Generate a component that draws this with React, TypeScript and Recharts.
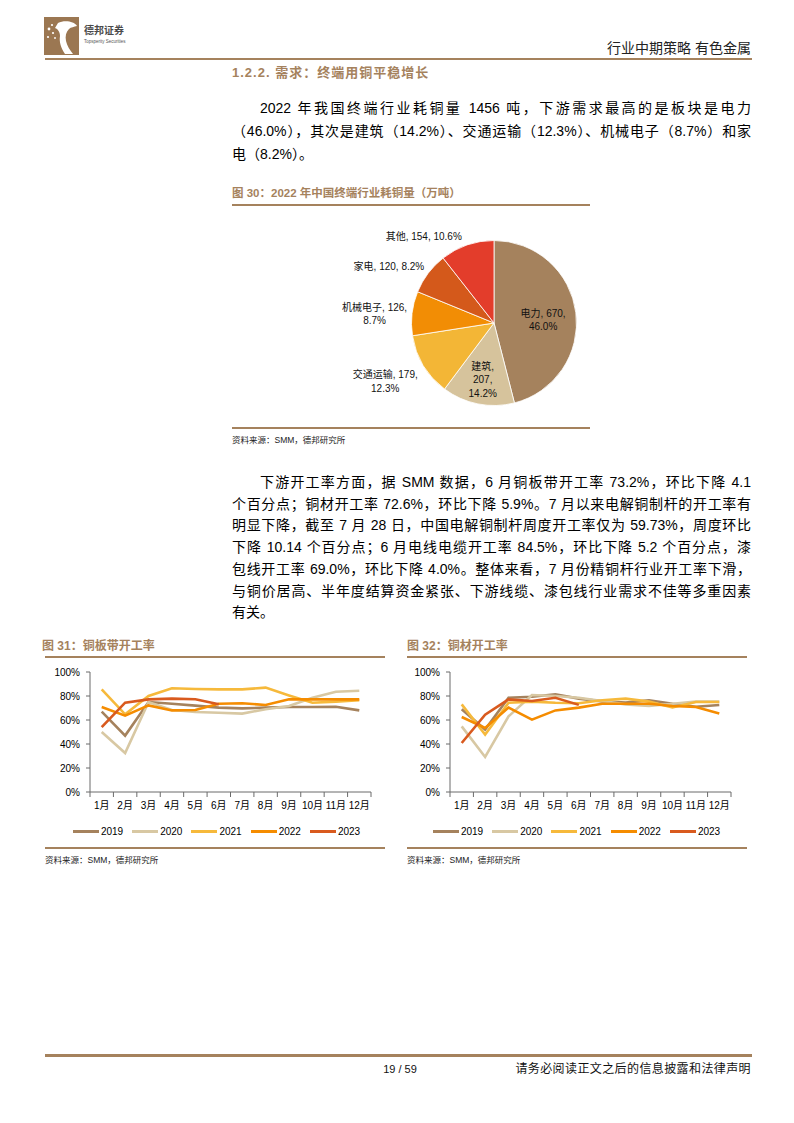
import React from 'react';
import { PieChart, Pie, Cell, LineChart, Line, XAxis, YAxis, Legend } from 'recharts';

// ---------- data ----------
const pieNames = ['电力', '建筑', '交通运输', '机械电子', '家电', '其他'];
const pieValues = [670, 207, 179, 126, 120, 154];
const pieColors = ['#A5825D', '#D6C39C', '#F3B636', '#F28D05', '#D4591B', '#E33D2B'];

const months = ['1月', '2月', '3月', '4月', '5月', '6月', '7月', '8月', '9月', '10月', '11月', '12月'];
const years = ['2019', '2020', '2021', '2022', '2023'];
const yearColors = ['#A5825D', '#D8C8A3', '#F6B93B', '#F58C00', '#D95A1E'];
const yTicks = [0, 20, 40, 60, 80, 100];

// 图31 铜板带开工率 (%)
const plate2019 = [67, 47, 75, 73.5, 72, 70.3, 69.7, 70.3, 70.8, 70.8, 71, 68];
const plate2020 = [50, 32.5, 75, 68.3, 66.7, 66, 65.3, 69, 71.7, 78.6, 83.6, 84.4];
const plate2021 = [85.5, 64.7, 80, 86.4, 85.8, 85.5, 85.5, 87, 80.5, 74.4, 75.3, 76.4];
const plate2022 = [70.8, 63.6, 72.2, 68, 68.3, 73.6, 74, 72.5, 77.2, 77.2, 77.2, 77.2];
const plate2023 = [54, 74.4, 77.2, 77.8, 77.3, 73.2];

// 图32 铜材开工率 (%)
const rod2019 = [69, 52, 78.6, 79.4, 81.4, 77.8, 75.5, 74.5, 76.5, 73.5, 71, 72.5];
const rod2020 = [54.7, 29.2, 63, 80.8, 80, 78.6, 75.8, 73, 71.7, 73.6, 75.3, 75.3];
const rod2021 = [73, 47.8, 74.4, 75.3, 74.4, 74, 76.4, 77.8, 75.3, 70.5, 75, 75];
const rod2022 = [62.5, 53.3, 70.3, 60.3, 68, 70.3, 73.6, 73.6, 73.6, 71.7, 70.8, 65.5];
const rod2023 = [40.8, 64.4, 77.2, 75.8, 78.5, 72.6];

// ---------- build tables ----------
const pieTotal = pieValues.reduce((a, b) => a + b, 0);
const pieData = pieNames.map((name, i) => ({
  name,
  value: pieValues[i],
  pct: ((pieValues[i] / pieTotal) * 100).toFixed(1) + '%',
}));

function buildRows(series: number[][]) {
  return months.map((m, i) => {
    const row: any = { m };
    years.forEach((y, k) => {
      if (series[k][i] !== undefined) row[y] = series[k][i];
    });
    return row;
  });
}
const plateRows = buildRows([plate2019, plate2020, plate2021, plate2022, plate2023]);
const rodRows = buildRows([rod2019, rod2020, rod2021, rod2022, rod2023]);

// ---------- styles ----------
const FONT = '"Liberation Sans", Arial, "Noto Sans CJK SC", sans-serif';
const BROWN = '#A5825D';
const AXIS = '#6b6b6b';
const RAD = Math.PI / 180;

const CHART_W = 341;
const Y_AXIS_W = 50;
const MARGIN_R = 10;
const PLOT_W = CHART_W - Y_AXIS_W - MARGIN_R;
const HALF_BAND = PLOT_W / months.length / 2;

const pieLabelLayout = [
  { inside: true, r: 0.6, dx: 0, dy: 3, split: 2 },
  { inside: true, r: 0.7, dx: 0, dy: 0, split: 3 },
  { inside: false, r: 10, dx: 3, dy: 11, split: 2 },
  { inside: false, r: 10, dx: 5, dy: 2, split: 2 },
  { inside: false, r: 10, dx: 4, dy: -1, split: 1 },
  { inside: false, r: 10, dx: -2, dy: 1, split: 1 },
];

function textW(s: string) {
  let w = 0;
  for (const ch of s) {
    if (/[\u4e00-\u9fff]/.test(ch)) w += 10;
    else if (/[0-9]/.test(ch)) w += 5.56;
    else if (ch === '%') w += 8.89;
    else w += 2.78;
  }
  return w;
}

const renderPieLabel = (props: any) => {
  const { cx, cy, midAngle, outerRadius, index } = props;
  const d = pieData[index];
  const cfg = pieLabelLayout[index];
  let lines: string[];
  if (cfg.split === 1) lines = [`${d.name}, ${d.value}, ${d.pct}`];
  else if (cfg.split === 2) lines = [`${d.name}, ${d.value},`, d.pct];
  else lines = [`${d.name},`, `${d.value},`, d.pct];
  const rr = cfg.inside ? outerRadius * cfg.r : outerRadius + cfg.r;
  const ax = cx + Math.cos(-midAngle * RAD) * rr;
  const ay = cy + Math.sin(-midAngle * RAD) * rr;
  let centerX = ax + cfg.dx;
  if (!cfg.inside) {
    const w = Math.max(...lines.map(textW));
    centerX = ax + cfg.dx - w / 2;
  }
  const centerY = ay + cfg.dy;
  const lh = 13.5;
  return (
    <g>
      {lines.map((t, i) => (
        <text
          key={i}
          x={centerX}
          y={centerY + (i - (lines.length - 1) / 2) * lh}
          textAnchor="middle"
          dominantBaseline="central"
          fontSize={10}
          fontFamily={FONT}
          fill="#111"
        >
          {t}
        </text>
      ))}
    </g>
  );
};

const MonthTick = (props: any) => {
  const { x, y, payload } = props;
  const last = payload.value === months[months.length - 1];
  return (
    <g>
      <line x1={x - HALF_BAND} y1={y} x2={x - HALF_BAND} y2={y + 5} stroke={AXIS} strokeWidth={1} />
      {last && <line x1={x + HALF_BAND} y1={y} x2={x + HALF_BAND} y2={y + 5} stroke={AXIS} strokeWidth={1} />}
      <text x={x} y={y + 13} textAnchor="middle" dominantBaseline="central" fontSize={10} fontFamily={FONT} fill="#000">
        {payload.value}
      </text>
    </g>
  );
};

const renderLegend = () => (
  <div
    style={{
      display: 'flex',
      justifyContent: 'center',
      alignItems: 'center',
      paddingLeft: 22,
      height: 28,
      fontSize: 10,
      fontFamily: FONT,
      color: '#000',
      gap: 9,
    }}
  >
    {years.map((y, i) => (
      <div key={y} style={{ display: 'flex', alignItems: 'center' }}>
        <span style={{ display: 'inline-block', width: 26, height: 3, background: yearColors[i], marginRight: 2 }} />
        <span>{y}</span>
      </div>
    ))}
  </div>
);

function RateChart({ left, rows }: { left: number; rows: any[] }) {
  return (
    <div style={{ position: 'absolute', left, top: 665 }}>
      <LineChart width={CHART_W} height={180} data={rows} margin={{ top: 7, right: MARGIN_R, left: 0, bottom: 0 }}>
        <XAxis
          dataKey="m"
          interval={0}
          padding={{ left: HALF_BAND, right: HALF_BAND }}
          tickLine={false}
          tickSize={0}
          tickMargin={0}
          height={25}
          axisLine={{ stroke: AXIS }}
          tick={<MonthTick />}
        />
        <YAxis
          domain={[0, 100]}
          ticks={yTicks}
          tickFormatter={(v: number) => `${v}%`}
          width={Y_AXIS_W}
          tickSize={4}
          tickMargin={6}
          axisLine={{ stroke: AXIS }}
          tickLine={{ stroke: AXIS }}
          tick={{ fontSize: 10, fill: '#000', fontFamily: FONT }}
        />
        <Legend verticalAlign="bottom" content={renderLegend} wrapperStyle={{ height: 28 }} />
        {years.map((y, i) => (
          <Line
            key={y}
            type="linear"
            dataKey={y}
            stroke={yearColors[i]}
            strokeWidth={2.6}
            dot={false}
            activeDot={false}
            isAnimationActive={false}
          />
        ))}
      </LineChart>
    </div>
  );
}

const abs = (style: React.CSSProperties): React.CSSProperties => ({ position: 'absolute', whiteSpace: 'nowrap', ...style });

function JLine({ left, right, cy, text, justify = true }: { left: number; right: number; cy: number; text: string; justify?: boolean }) {
  return (
    <div
      style={{
        position: 'absolute',
        left,
        width: right - left,
        top: cy - 11,
        height: 22,
        lineHeight: '22px',
        fontSize: 14,
        color: '#000',
        textAlign: justify ? 'justify' : 'left',
        textAlignLast: justify ? 'justify' : 'left',
        overflow: 'visible',
      }}
    >
      {text}
    </div>
  );
}

function Logo() {
  return (
    <svg width={35} height={38} style={{ position: 'absolute', left: 44, top: 17 }}>
      <rect width={35} height={38} fill="#9B7752" />
      <path
        d="M14 6 C20 3 30 4 33 9 C30 10 27 10 25 12 C22 15 21 19 22 24 C23 29 26 33 29 37 L21 37 C17 31 15 25 16 19 C16 15 14 12 11 11 Z"
        fill="#fff"
      />
      <circle cx={5} cy={12} r={1.4} fill="#fff" />
      <circle cx={9} cy={16} r={1.1} fill="#fff" />
      <circle cx={4} cy={20} r={1.1} fill="#fff" />
      <circle cx={8} cy={8} r={1.1} fill="#fff" />
      <circle cx={11} cy={21} r={0.9} fill="#fff" />
    </svg>
  );
}

export default function App() {
  const p1 = [
    '2022 年我国终端行业耗铜量 1456 吨，下游需求最高的是板块是电力',
    '（46.0%），其次是建筑（14.2%）、交通运输（12.3%）、机械电子（8.7%）和家',
    '电（8.2%）。',
  ];
  const p2 = [
    '下游开工率方面，据 SMM 数据，6 月铜板带开工率 73.2%，环比下降 4.1',
    '个百分点；铜材开工率 72.6%，环比下降 5.9%。7 月以来电解铜制杆的开工率有',
    '明显下降，截至 7 月 28 日，中国电解铜制杆周度开工率仅为 59.73%，周度环比',
    '下降 10.14 个百分点；6 月电线电缆开工率 84.5%，环比下降 5.2 个百分点，漆',
    '包线开工率 69.0%，环比下降 4.0%。整体来看，7 月份精铜杆行业开工率下滑，',
    '与铜价居高、半年度结算资金紧张、下游线缆、漆包线行业需求不佳等多重因素',
    '有关。',
  ];
  return (
    <div style={{ position: 'absolute', left: 0, top: 0, width: 794, height: 1123, background: '#fff', fontFamily: FONT }}>
      {/* header */}
      <Logo />
      <div style={abs({ left: 84, top: 25, fontSize: 10, fontWeight: 'bold', color: '#4a4a4a', lineHeight: '12px' })}>德邦证券</div>
      <div style={abs({ left: 84, top: 39, fontSize: 4.5, color: '#555', lineHeight: '5px' })}>Topsperity Securities</div>
      <div style={abs({ right: 794 - 751, top: 40, fontSize: 14, color: '#222', lineHeight: '16px' })}>行业中期策略 有色金属</div>
      <div style={abs({ left: 45, top: 58, width: 707, height: 2, background: BROWN })} />

      {/* section heading */}
      <div style={abs({ left: 232, top: 65, fontSize: 13, fontWeight: 'bold', color: BROWN, lineHeight: '16px', letterSpacing: 1 })}>
        1.2.2. 需求：终端用铜平稳增长
      </div>

      {/* paragraph 1 */}
      <JLine left={260} right={751} cy={108} text={p1[0]} />
      <JLine left={232} right={751} cy={131} text={p1[1]} />
      <JLine left={232} right={751} cy={154} text={p1[2]} justify={false} />

      {/* figure 30 */}
      <div style={abs({ left: 232, top: 186, fontSize: 11.5, fontWeight: 'bold', color: BROWN, lineHeight: '14px' })}>
        图 30：2022 年中国终端行业耗铜量（万吨）
      </div>
      <div style={abs({ left: 232, top: 204, width: 358, height: 1.5, background: BROWN })} />
      <div style={{ position: 'absolute', left: 232, top: 207 }}>
        <PieChart width={358} height={220}>
          <Pie
            data={pieData}
            dataKey="value"
            nameKey="name"
            cx={257}
            cy={111}
            outerRadius={82.5}
            startAngle={90}
            endAngle={-270}
            stroke="#fff"
            strokeWidth={0.8}
            label={renderPieLabel}
            labelLine={false}
            isAnimationActive={false}
          >
            {pieData.map((d, i) => (
              <Cell key={d.name} fill={pieColors[i]} />
            ))}
          </Pie>
        </PieChart>
      </div>
      <div style={abs({ left: 232, top: 427, width: 358, height: 1.5, background: BROWN })} />
      <div style={abs({ left: 232, top: 435, fontSize: 8.5, color: '#222', lineHeight: '11px' })}>资料来源：SMM，德邦研究所</div>

      {/* paragraph 2 */}
      {p2.map((t, i) => (
        <JLine key={i} left={i === 0 ? 260 : 232} right={751} cy={482 + i * 21.7} text={t} justify={i !== p2.length - 1} />
      ))}

      {/* figure 31 */}
      <div style={abs({ left: 42, top: 639, fontSize: 12, fontWeight: 'bold', color: BROWN, lineHeight: '14px' })}>图 31：铜板带开工率</div>
      <div style={abs({ left: 45, top: 656, width: 340, height: 1.5, background: BROWN })} />
      <RateChart left={40} rows={plateRows} />
      <div style={abs({ left: 45, top: 847, width: 340, height: 1.5, background: BROWN })} />
      <div style={abs({ left: 45, top: 855, fontSize: 8.5, color: '#222', lineHeight: '11px' })}>资料来源：SMM，德邦研究所</div>

      {/* figure 32 */}
      <div style={abs({ left: 407, top: 639, fontSize: 12, fontWeight: 'bold', color: BROWN, lineHeight: '14px' })}>图 32：铜材开工率</div>
      <div style={abs({ left: 407, top: 656, width: 340, height: 1.5, background: BROWN })} />
      <RateChart left={400} rows={rodRows} />
      <div style={abs({ left: 407, top: 847, width: 340, height: 1.5, background: BROWN })} />
      <div style={abs({ left: 407, top: 855, fontSize: 8.5, color: '#222', lineHeight: '11px' })}>资料来源：SMM，德邦研究所</div>

      {/* footer */}
      <div style={abs({ left: 45, top: 1054, width: 707, height: 2.5, background: BROWN })} />
      <div style={abs({ left: 380, top: 1063, width: 40, textAlign: 'center', fontSize: 11, color: '#111', lineHeight: '13px' })}>19 / 59</div>
      <div style={abs({ right: 794 - 751, top: 1062, fontSize: 12, color: '#111', lineHeight: '14px', letterSpacing: 0.4 })}>请务必阅读正文之后的信息披露和法律声明</div>
    </div>
  );
}
